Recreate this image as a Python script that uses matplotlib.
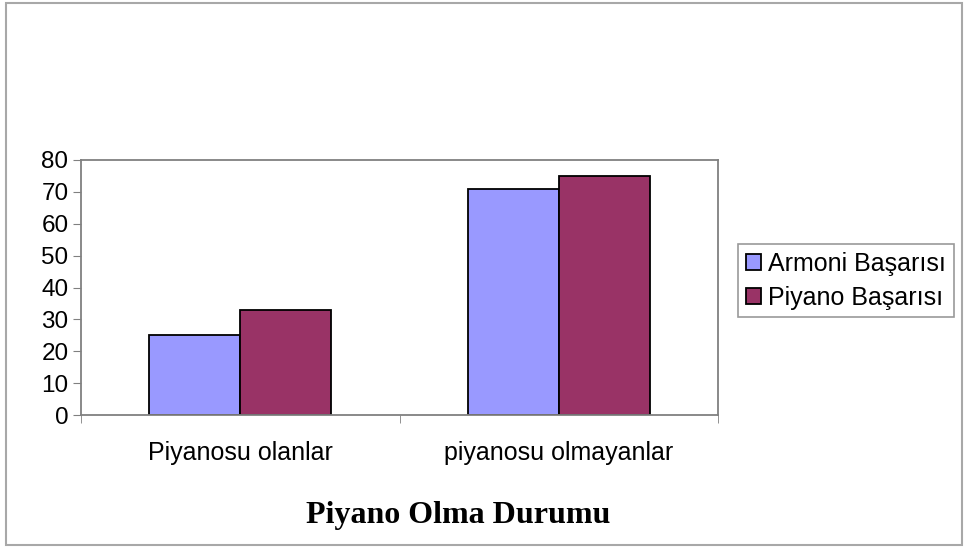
import matplotlib.pyplot as plt
import numpy as np
from matplotlib.patches import Rectangle

categories = ['Piyanosu olanlar', 'piyanosu olmayanlar']
armoni = [25, 71]
piyano = [33, 75]
series_names = ['Armoni Başarısı', 'Piyano Başarısı']
colors = ['#9999FF', '#993366']

fig = plt.figure(figsize=(9.64, 5.47), dpi=100)
fig.patches.append(Rectangle((0.006, 0.004), 0.992, 0.99, transform=fig.transFigure,
                             fill=False, edgecolor='#a8a8a8', linewidth=1.5))

ax = fig.add_axes([0.084, 0.2413, 0.661, 0.4662])
x = np.arange(len(categories))
w = 0.286
ax.bar(x - w / 2, armoni, w, color=colors[0], edgecolor='black', linewidth=1.3, label=series_names[0])
ax.bar(x + w / 2, piyano, w, color=colors[1], edgecolor='black', linewidth=1.3, label=series_names[1])

ax.set_xlim(-0.5, 1.5)
ax.set_ylim(0, 80)
ax.set_yticks(range(0, 81, 10))
ax.set_xticks(x)
ax.set_xticklabels(categories, fontsize=18, family='Liberation Sans')
ax.set_xticks([-0.5, 0.5, 1.5], minor=True)
ax.tick_params(axis='x', which='major', length=0, pad=19)
ax.tick_params(axis='x', which='minor', length=6, color='#808080')
ax.tick_params(axis='y', length=6, color='#808080', pad=3)
for lbl in ax.get_yticklabels():
    lbl.set_fontsize(17.5)
    lbl.set_family('Liberation Sans')
for s in ax.spines.values():
    s.set_color('#808080')
    s.set_linewidth(1.3)

leg = ax.legend(loc='center left', bbox_to_anchor=(0.766, 0.487), bbox_transform=fig.transFigure,
                prop={'family': 'Liberation Sans', 'size': 18}, frameon=True, fancybox=False,
                handlelength=0.6, handleheight=0.6, handletextpad=0.3, borderpad=0.3,
                labelspacing=0.4, borderaxespad=0)
leg.get_frame().set_edgecolor('#808080')
leg.get_frame().set_linewidth(1.2)

fig.text(0.475, 0.0585, 'Piyano Olma Durumu', ha='center', va='center',
         fontsize=23, fontweight='bold', family='Liberation Serif')

fig.savefig('out.png', dpi=100)
